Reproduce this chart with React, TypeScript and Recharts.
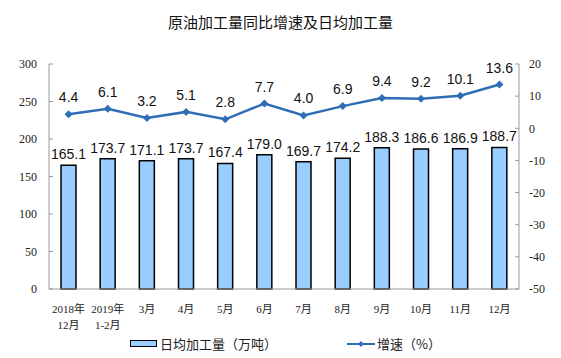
import React from 'react';
import { ComposedChart, Bar, Line, XAxis, YAxis, LabelList } from 'recharts';

const categories = ['2018年\n12月', '2019年\n1-2月', '3月', '4月', '5月', '6月', '7月', '8月', '9月', '10月', '11月', '12月'];
const dailyOutput = [165.1, 173.7, 171.1, 173.7, 167.4, 179.0, 169.7, 174.2, 188.3, 186.6, 186.9, 188.7];
const growth = [4.4, 6.1, 3.2, 5.1, 2.8, 7.7, 4.0, 6.9, 9.4, 9.2, 10.1, 13.6];
const leftTicks = [0, 50, 100, 150, 200, 250, 300];
const rightTicks = [-50, -40, -30, -20, -10, 0, 10, 20];

const data = categories.map((name, i) => ({ name, output: dailyOutput[i], growth: growth[i] }));

const BAR_FILL = '#99CCFF';
const LINE_COLOR = '#2F6DB5';
const tickFont = '"Liberation Serif", "Noto Sans CJK SC", serif';
const labelFont = '"Liberation Sans", Arial, sans-serif';

const CategoryTick = (props: any) => {
  const { x, y, payload } = props;
  const lines = String(payload.value).split('\n');
  return (
    <text x={x} y={y} textAnchor="middle" fontSize={11} fill="#222" fontFamily={tickFont}>
      {lines.map((l, i) => (
        <tspan key={i} x={x} dy={16}>{l}</tspan>
      ))}
    </text>
  );
};

const LegendBox = () => (
  <div style={{ position: 'absolute', left: 0, top: 334, width: 561, height: 20, fontFamily: '"Noto Sans CJK SC", sans-serif', fontSize: 13, color: '#222' }}>
    <div style={{ position: 'absolute', left: 130, top: 0, display: 'flex', alignItems: 'center' }}>
      <span style={{ display: 'inline-block', width: 25, height: 5, background: BAR_FILL, border: '1.5px solid #000', marginRight: 3 }} />
      <span>日均加工量（万吨）</span>
    </div>
    <div style={{ position: 'absolute', left: 347, top: 0, display: 'flex', alignItems: 'center' }}>
      <svg width={28} height={10} style={{ marginRight: 2 }}>
        <line x1={0} y1={5} x2={28} y2={5} stroke={LINE_COLOR} strokeWidth={2} />
        <path d="M14 2 L17 5 L14 8 L11 5 Z" fill={LINE_COLOR} />
      </svg>
      <span>增速（%）</span>
    </div>
  </div>
);

const Diamond = (props: any) => {
  const { cx, cy } = props;
  if (cx == null || cy == null) return null;
  return <path d={`M${cx} ${cy - 4} L${cx + 4} ${cy} L${cx} ${cy + 4} L${cx - 4} ${cy} Z`} fill={LINE_COLOR} />;
};

export default function App() {
  return (
    <div style={{ position: 'absolute', left: 0, top: 0, width: 561, height: 358, background: '#fff' }}>
      <div style={{ position: 'absolute', left: 0, top: 11, width: 561, textAlign: 'center', fontFamily: '"Noto Sans CJK SC", sans-serif', fontSize: 15, color: '#111' }}>
        原油加工量同比增速及日均加工量
      </div>
      <ComposedChart width={561} height={358} data={data} margin={{ top: 64, right: 0, bottom: 14, left: 0 }}>
        <XAxis
          dataKey="name"
          xAxisId="x"
          interval={0}
          tick={<CategoryTick />}
          tickLine={false}
          axisLine={{ stroke: '#999' }}
          height={55}
        />
        <YAxis
          yAxisId="left"
          domain={[0, 300]}
          ticks={leftTicks}
          width={49}
          tick={{ fontSize: 12, fill: '#222', fontFamily: tickFont }}
          tickLine={{ stroke: '#999' }}
          tickSize={-4}
          tickMargin={16}
          axisLine={{ stroke: '#999' }}
        />
        <YAxis
          yAxisId="right"
          orientation="right"
          domain={[-50, 20]}
          ticks={rightTicks}
          width={42}
          tick={{ fontSize: 12, fill: '#222', fontFamily: tickFont, textAnchor: 'start' }}
          tickLine={{ stroke: '#999' }}
          tickSize={-4}
          tickMargin={14}
          axisLine={{ stroke: '#999' }}
        />
        <Bar
          dataKey="output"
          xAxisId="x"
          yAxisId="left"
          fill={BAR_FILL}
          stroke="#000"
          strokeWidth={1.5}
          barSize={15}
          isAnimationActive={false}
        >
          <LabelList dataKey="output" position="top" offset={6} formatter={(v: any) => Number(v).toFixed(1)} style={{ fontSize: 14, fill: '#111', fontFamily: labelFont }} />
        </Bar>
        <Line
          dataKey="growth"
          xAxisId="x"
          yAxisId="right"
          stroke={LINE_COLOR}
          strokeWidth={2.5}
          dot={<Diamond />}
          activeDot={false}
          isAnimationActive={false}
        >
          <LabelList dataKey="growth" position="top" offset={12} formatter={(v: any) => Number(v).toFixed(1)} style={{ fontSize: 14, fill: '#111', fontFamily: labelFont }} />
        </Line>
      </ComposedChart>
      <LegendBox />
    </div>
  );
}
